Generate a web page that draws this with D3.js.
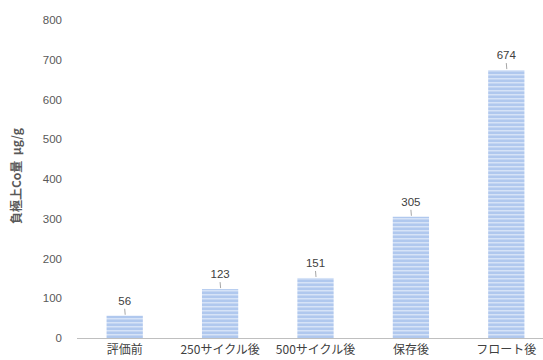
<!DOCTYPE html>
<html>
<head>
<meta charset="utf-8">
<script src="https://cdn.jsdelivr.net/npm/d3@7"></script>
<style>
  body { margin: 0; background: #fff; }
  text { font-family: "Noto Sans CJK JP", "Noto Sans", sans-serif; fill: #595959; }
</style>
</head>
<body>
<svg id="chart" width="543" height="360"></svg>
<script>
// categories and values
const categories = ["評価前", "250サイクル後", "500サイクル後", "保存後", "フロート後"];
const values = [56, 123, 151, 305, 674];
const yTicks = [0, 100, 200, 300, 400, 500, 600, 700, 800];

const svg = d3.select("#chart");

// striped fill for the bars
const defs = svg.append("defs");
const pat = defs.append("pattern")
  .attr("id", "stripes")
  .attr("patternUnits", "userSpaceOnUse")
  .attr("width", 8).attr("height", 4);
pat.append("rect").attr("width", 8).attr("height", 4).attr("fill", "#b0c8ee");
pat.append("rect").attr("y", 2).attr("width", 8).attr("height", 1.5).attr("fill", "#d6e3f7");

const x = d3.scaleBand()
  .domain(categories)
  .range([77, 554])
  .paddingInner(0.62)
  .paddingOuter(0.31);

const y = d3.scaleLinear()
  .domain([0, 800])
  .range([338, 20]);

// y tick labels (no axis line)
const yAxis = svg.append("g")
  .attr("transform", "translate(66,0)")
  .call(d3.axisLeft(y).tickValues(yTicks).tickSize(0).tickPadding(4));
yAxis.select(".domain").remove();
yAxis.selectAll("text").style("font-size", "11.5px").style("fill", "#595959")
  .style("font-family", "Liberation Sans, Arial, sans-serif");

// bars
svg.selectAll("rect.bar")
  .data(values)
  .enter()
  .append("rect")
  .attr("class", "bar")
  .attr("x", (d, i) => x(categories[i]))
  .attr("y", d => y(d))
  .attr("width", x.bandwidth())
  .attr("height", d => y(0) - y(d))
  .attr("fill", "url(#stripes)");

// x axis line + category labels
const xAxis = svg.append("g")
  .attr("transform", "translate(0," + y(0) + ")")
  .call(d3.axisBottom(x).tickSize(0).tickPadding(7));
xAxis.select(".domain").attr("stroke", "#bfbfbf").attr("d", "M77,0.5H554");
xAxis.selectAll("text").style("font-size", "12px").style("fill", "#404040");

// leader lines and value labels
svg.selectAll("line.leader")
  .data(values)
  .enter()
  .append("line")
  .attr("class", "leader")
  .attr("x1", (d, i) => x(categories[i]) + x.bandwidth() / 2)
  .attr("x2", (d, i) => x(categories[i]) + x.bandwidth() / 2 + 0.5)
  .attr("y1", d => y(d) - 7)
  .attr("y2", d => y(d) - 1)
  .attr("stroke", "#a6a6a6");

svg.selectAll("text.val")
  .data(values)
  .enter()
  .append("text")
  .attr("class", "val")
  .attr("x", (d, i) => x(categories[i]) + x.bandwidth() / 2)
  .attr("y", d => y(d) - 11)
  .attr("text-anchor", "middle")
  .style("font-size", "11.5px")
  .style("fill", "#404040")
  .style("font-family", "Liberation Sans, Arial, sans-serif")
  .text(d => d);

// y axis title
svg.append("text")
  .attr("transform", "translate(21,176) rotate(-90)")
  .attr("text-anchor", "middle")
  .style("font-size", "12px")
  .style("font-weight", "bold")
  .style("fill", "#595959")
  .text("負極上Co量\u00a0\u00a0µg/g");
</script>
</body>
</html>
